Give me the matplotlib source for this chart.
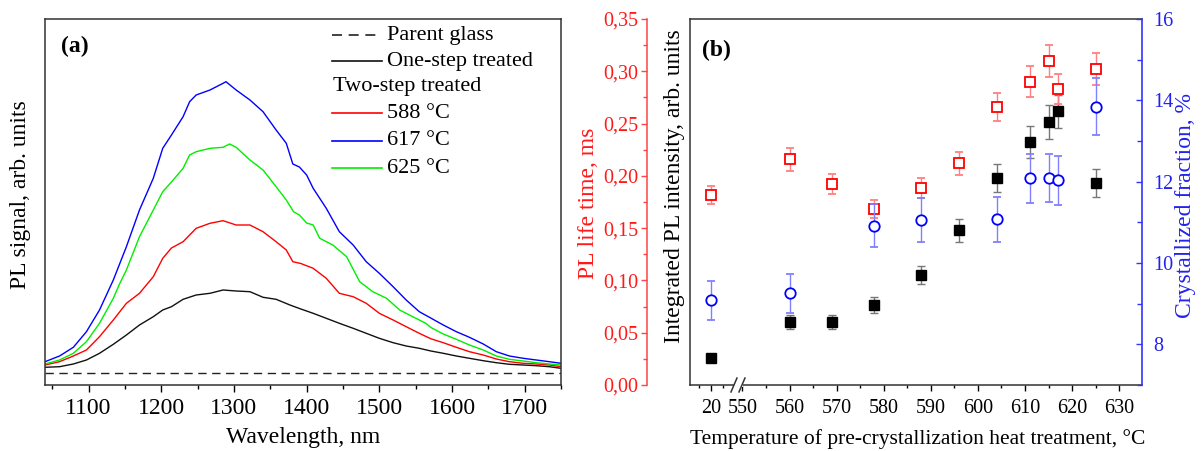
import numpy as np
import matplotlib
matplotlib.use('Agg')
import matplotlib.pyplot as plt
from matplotlib.ticker import MultipleLocator, FixedLocator, FuncFormatter
from matplotlib.lines import Line2D

plt.rcParams['font.family'] = ['Liberation Serif', 'DejaVu Serif']

# ---------------- panel (a): PL spectra (arb. units) ----------------
wl_blue = [1040, 1060, 1079, 1097, 1115, 1134, 1152, 1170, 1189, 1202, 1214, 1230, 1239, 1248, 1267,
           1285, 1289, 1303, 1322, 1340, 1358, 1372, 1381, 1390, 1400, 1409, 1427, 1445, 1464, 1482,
           1500, 1519, 1537, 1555, 1569, 1588, 1606, 1624, 1643, 1661, 1679, 1698, 1716, 1734, 1750]
pl_617 = [23.3, 29, 37.7, 53.3, 75, 105, 138.3, 175, 206.7, 236.7, 250, 268.3, 283.3, 290, 295,
          301.7, 303.3, 295, 285, 273.3, 255, 241.7, 221, 218, 210, 196.7, 176.7, 153.3, 140, 123.3,
          111.7, 98.3, 85, 73.3, 67.7, 60, 53.3, 47.7, 41, 33.3, 29, 26.7, 25, 23.3, 21.7]

wl_green = [1040, 1060, 1079, 1097, 1115, 1134, 1143, 1152, 1170, 1189, 1202, 1214, 1230, 1239, 1248,
            1267, 1285, 1294, 1303, 1322, 1340, 1358, 1372, 1382, 1390, 1400, 1409, 1418, 1436, 1455,
            1473, 1491, 1510, 1528, 1546, 1564, 1571, 1588, 1606, 1624, 1643, 1661, 1679, 1698, 1716,
            1734, 1750]
pl_625 = [21, 25, 31.7, 43.3, 61.7, 86.7, 101.7, 115, 148.3, 175, 193.3, 203, 216.7, 230, 233.3,
          236.7, 237.7, 241, 237.7, 225, 215, 198.3, 185, 173.3, 170, 162, 160, 146.7, 140, 128.3,
          103.3, 93.3, 86.7, 75, 68.3, 61.7, 57.5, 51, 45.7, 40, 35, 29, 25.7, 24, 22.3,
          21, 20]

wl_red = [1040, 1060, 1079, 1097, 1115, 1134, 1152, 1170, 1189, 1202, 1214, 1230, 1248, 1267, 1285,
          1303, 1322, 1340, 1358, 1372, 1381, 1392, 1409, 1427, 1445, 1464, 1482, 1500, 1519, 1537,
          1555, 1571, 1588, 1606, 1624, 1643, 1661, 1679, 1698, 1716, 1734, 1750]
pl_588 = [20, 23.3, 29, 35, 48.3, 65, 81.7, 91.7, 108.3, 126.7, 137, 143.3, 156.7, 161.7, 164.3,
          160, 160, 153.3, 143.3, 135, 123.3, 121.5, 116.7, 106.7, 91.7, 88.3, 81.7, 71.7, 65, 58.3,
          51.7, 46.2, 42.3, 37.7, 33.3, 30, 26, 23.3, 21.7, 21, 20, 18.3]

wl_black = [1040, 1060, 1079, 1097, 1115, 1134, 1152, 1170, 1189, 1202, 1214, 1230, 1248, 1267, 1285,
            1303, 1322, 1340, 1358, 1377, 1392, 1409, 1427, 1445, 1464, 1482, 1500, 1519, 1537, 1555,
            1571, 1588, 1606, 1624, 1643, 1661, 1679, 1698, 1716, 1734, 1750]
pl_one = [17.7, 18.3, 21, 25, 31.7, 40.7, 50, 60, 68.3, 75, 78.3, 85.7, 90, 91.7, 95,
          94, 93.3, 87.7, 85.7, 80, 76, 71.7, 66.7, 61.7, 56.7, 51.7, 46.7, 42.3, 39, 36.7,
          34, 31.7, 29, 26.7, 24.3, 22.3, 20.7, 20, 19.3, 18.3, 16.7]

wl_parent = [1040, 1750]
pl_parent = [11.7, 11.7]

# ---------------- panel (b) ----------------
temps = [20, 560, 569, 578, 588, 596, 604, 611, 615, 617, 625]
lifetime = [0.1814, 0.2157, 0.1925, 0.1683, 0.1884, 0.2119, 0.2660, 0.2899, 0.3102, 0.2832, 0.3023]
lifetime_err = [0.0087, 0.0108, 0.0095, 0.0087, 0.0097, 0.0108, 0.0133, 0.0148, 0.0154, 0.0142, 0.0153]
intensity = [0.0261, 0.0604, 0.0604, 0.0767, 0.105, 0.148, 0.1976, 0.2323, 0.2517, 0.2616, 0.1935]
intensity_err = [0.002, 0.0064, 0.0064, 0.0075, 0.0088, 0.0111, 0.0134, 0.0151, 0.0161, 0.0162, 0.0135]
cf_temps = [20, 560, 578, 588, 604, 611, 615, 617, 625]
cryst_frac = [9.086, 9.26, 10.92, 11.05, 11.07, 12.08, 12.09, 12.03, 13.84]
cryst_err = [0.48, 0.48, 0.53, 0.545, 0.555, 0.61, 0.60, 0.60, 0.70]

xtick_vals = [20, 550, 560, 570, 580, 590, 600, 610, 620, 630]
xtick_labels = ['20', '550', '560', '570', '580', '590', '600', '610', '620', '630']
xminor_vals = [15, 25, 555, 565, 575, 585, 595, 605, 615, 625]

W, H = 1202, 451
fig = plt.figure(figsize=(W / 100, H / 100), dpi=100)

# ======== panel (a) ========
axa = fig.add_axes([45 / W, 66 / H, 516 / W, 366 / H])
lw = 1.0
axa.plot(wl_parent, pl_parent, color='#222222', lw=1.0, dashes=(6, 4))
axa.plot(wl_black, pl_one, color='#111111', lw=lw)
axa.plot(wl_red, pl_588, color='#ff0000', lw=lw)
axa.plot(wl_blue, pl_617, color='#0000ff', lw=lw)
axa.plot(wl_green, pl_625, color='#00ee00', lw=lw)
axa.set_xlim(1040, 1750)
axa.set_ylim(0, 366)
axa.set_yticks([])
axa.xaxis.set_major_locator(MultipleLocator(100))
axa.xaxis.set_minor_locator(MultipleLocator(50))
axa.tick_params(axis='x', which='major', direction='out', length=5, width=1, labelsize=17, pad=4)
axa.tick_params(axis='x', which='minor', direction='out', length=3, width=1)
for s in axa.spines.values():
    s.set_linewidth(1.1)
    s.set_color('#333333')

# manual legend
rows = [0.955, 0.885, 0.815, 0.742, 0.667, 0.592]
leg_items = [('Parent glass', '#222222', (6, 4)), ('One-step treated', '#111111', None),
             ('Two-step treated', None, None), ('588 °C', '#ff0000', None),
             ('617 °C', '#0000ff', None), ('625 °C', '#00ee00', None)]
for yy, (lab, col, dsh) in zip(rows, leg_items):
    if col is None:
        axa.text(0.558, yy, lab, transform=axa.transAxes, fontsize=16, va='center', ha='left')
        continue
    ln = Line2D([0.556, 0.653], [yy, yy], transform=axa.transAxes, color=col, lw=1.2)
    if dsh:
        ln.set_dashes(dsh)
    axa.add_line(ln)
    axa.text(0.663, yy, lab, transform=axa.transAxes, fontsize=16, va='center', ha='left')

axa.text(0.031, 0.924, '(a)', transform=axa.transAxes, fontsize=17, fontweight='bold',
         va='center', ha='left')
fig.text(21 / W, 1 - 195 / H, 'PL signal, arb. units', rotation=90, fontsize=17,
         ha='center', va='center')
fig.text(303 / W, 1 - 437 / H, 'Wavelength, nm', fontsize=17, ha='center', va='center')

# ======== panel (b) ========
def fwd(t):
    t = np.asarray(t, dtype=float)
    return np.where(t <= 30, 543.4 + (t - 20) * 0.51,
                    np.where(t <= 550, 548.5 + (t - 30) * (1.5 / 520), t))

def inv(u):
    u = np.asarray(u, dtype=float)
    return np.where(u <= 548.5, 20 + (u - 543.4) / 0.51,
                    np.where(u <= 550, 30 + (u - 548.5) * (520 / 1.5), u))

axb = fig.add_axes([690 / W, 66 / H, 452 / W, 366 / H])
axb.set_xscale('function', functions=(fwd, inv))
axb.set_xlim(float(inv(538.85)), 634.86)
axb.set_ylim(0, 0.35)
axb.errorbar(temps, intensity, yerr=intensity_err, fmt='s', ms=7, color='#000000',
             ecolor='#777777', elinewidth=1, capsize=3, capthick=1, zorder=3)
axb.set_yticks([])
axb.set_xticks(xtick_vals, xtick_labels)
axb.xaxis.set_minor_locator(FixedLocator(xminor_vals))
axb.tick_params(axis='x', which='major', direction='out', length=4, width=1, labelsize=14.5, pad=6)
axb.tick_params(axis='x', which='minor', direction='out', length=2.5, width=1)
axb.spines['right'].set_visible(False)
for k in ('left', 'top', 'bottom'):
    axb.spines[k].set_linewidth(1.1)
    axb.spines[k].set_color('#333333')

# axis break marks
for xf in (0.0973, 0.115):
    axb.add_line(Line2D([xf - 0.0066, xf + 0.0066], [-0.019, 0.019], transform=axb.transAxes,
                        color='#333333', lw=1.1, clip_on=False, zorder=6))
axb.add_line(Line2D([0.0995, 0.1125], [0, 0], transform=axb.transAxes, color='white', lw=2.2,
                    clip_on=False, zorder=5))

# red axis (PL life time)
axr = axb.twinx()
axr.set_ylim(0, 0.35)
axr.errorbar(temps, lifetime, yerr=lifetime_err, fmt='s', ms=7, mfc='white', mec='#ff0000',
             mew=1.3, ecolor='#ff8080', elinewidth=1, capsize=3, capthick=1, zorder=4)
for k in ('right', 'top', 'bottom'):
    axr.spines[k].set_visible(False)
axr.spines['left'].set_visible(True)
axr.spines['left'].set_position(('outward', 31))
axr.spines['left'].set_color('#ff4444')
axr.spines['left'].set_linewidth(1.1)
axr.yaxis.set_ticks_position('left')
axr.yaxis.set_major_locator(MultipleLocator(0.05))
axr.yaxis.set_minor_locator(MultipleLocator(0.025))
axr.yaxis.set_major_formatter(FuncFormatter(lambda v, p: f'{v:.2f}'.replace('.', ',')))
axr.tick_params(axis='y', which='major', direction='out', length=4.5, width=1, color='#ff4444',
                labelcolor='#ff1a1a', labelsize=14.5, pad=2)
axr.tick_params(axis='y', which='minor', direction='out', length=3, width=1, color='#ff4444')

# blue axis (crystallized fraction)
axc = axb.twinx()
axc.set_ylim(7, 16)
axc.errorbar(cf_temps, cryst_frac, yerr=cryst_err, fmt='o', ms=7.5, mfc='white', mec='#0000ff',
             mew=1.3, ecolor='#8080ff', elinewidth=1, capsize=3, capthick=1, zorder=5)
for k in ('left', 'top', 'bottom'):
    axc.spines[k].set_visible(False)
axc.spines['right'].set_color('#3333ff')
axc.spines['right'].set_linewidth(1.2)
axc.yaxis.set_major_locator(MultipleLocator(2))
axc.yaxis.set_minor_locator(MultipleLocator(1))
axc.set_yticks([8, 10, 12, 14, 16])
axc.tick_params(axis='y', which='major', direction='in', length=4.5, width=1, color='#3333ff',
                labelcolor='#2222ee', labelsize=14.5, pad=8)
axc.tick_params(axis='y', which='minor', direction='in', length=3.5, width=1, color='#3333ff')

axb.text(0.0265, 0.915, '(b)', transform=axb.transAxes, fontsize=17, fontweight='bold',
         va='center', ha='left', zorder=10)

fig.text(588 / W, 1 - 203 / H, 'PL life time, ms', rotation=90, fontsize=17, color='#ff1a1a',
         ha='center', va='center')
fig.text(675 / W, 1 - 186 / H, 'Integrated PL intensity, arb. units', rotation=90, fontsize=17,
         ha='center', va='center')
fig.text(1185 / W, 1 - 206 / H, 'Crystallized fraction, %', rotation=90, fontsize=17,
         color='#2222ee', ha='center', va='center')
fig.text(918 / W, 1 - 439 / H, 'Temperature of pre-crystallization heat treatment, °C',
         fontsize=15.5, ha='center', va='center')

fig.savefig('out.png', dpi=100)
